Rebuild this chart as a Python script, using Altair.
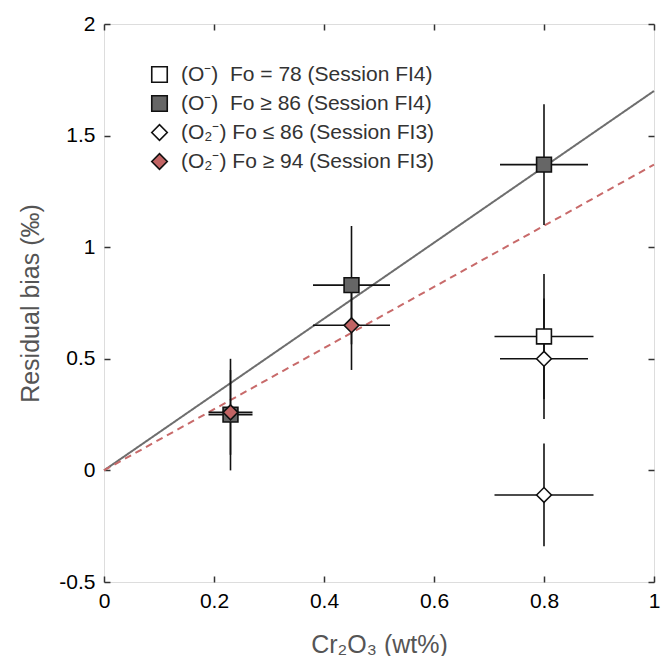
import altair as alt
import pandas as pd

FONT = "Liberation Sans"

# ---- data ----
series = [
    "(O\u207B)\u00a0\u00a0Fo = 78 (Session FI4)",
    "(O\u207B)\u00a0\u00a0Fo \u2265 86 (Session FI4)",
    "(O\u2082\u207B) Fo \u2264 86 (Session FI3)",
    "(O\u2082\u207B) Fo \u2265 94 (Session FI3)",
]
shapes = ["square", "square", "diamond", "diamond"]
fills = ["#ffffff", "#666666", "#ffffff", "#c26464"]
strokes = ["#111111", "#111111", "#111111", "#111111"]

s1_x = [0.80]
s1_y = [0.60]
s1_xerr = [0.09]
s1_yerr = [0.28]

s2_x = [0.23, 0.45, 0.80]
s2_y = [0.25, 0.83, 1.37]
s2_xerr = [0.04, 0.07, 0.08]
s2_yerr = [0.25, 0.265, 0.27]

s3_x = [0.80, 0.80]
s3_y = [0.50, -0.11]
s3_xerr = [0.08, 0.09]
s3_yerr = [0.27, 0.23]

s4_x = [0.23, 0.45]
s4_y = [0.26, 0.65]
s4_xerr = [0.04, 0.07]
s4_yerr = [0.19, 0.20]

fit_names = ["FI4 fit", "FI3 fit"]
fit_slopes = [1.70, 1.37]
fit_colors = ["#6e6e6e", "#c86a6a"]
fit_dash = [[1, 0], [7, 5]]

x_ticks = [0, 0.2, 0.4, 0.6, 0.8, 1]
y_ticks = [-0.5, 0, 0.5, 1, 1.5, 2]
x_domain = [0, 1]
y_domain = [-0.5, 2]

# ---- tables ----
rows = []
for name, xs_, ys_, xe, ye in [
    (series[0], s1_x, s1_y, s1_xerr, s1_yerr),
    (series[1], s2_x, s2_y, s2_xerr, s2_yerr),
    (series[2], s3_x, s3_y, s3_xerr, s3_yerr),
    (series[3], s4_x, s4_y, s4_xerr, s4_yerr),
]:
    for a, b, c, d in zip(xs_, ys_, xe, ye):
        rows.append({"series": name, "x": a, "y": b, "xerr": c, "yerr": d})
pts = pd.DataFrame(rows)

fit_rows = []
for n, s in zip(fit_names, fit_slopes):
    for xv in x_domain:
        fit_rows.append({"fit": n, "x": xv, "y": s * xv})
fits = pd.DataFrame(fit_rows)

xs = alt.Scale(domain=x_domain, nice=False, zero=False)
ys = alt.Scale(domain=y_domain, nice=False, zero=False)

label_expr = "datum.value < 0 ? '-' + format(-datum.value, '~g') : format(datum.value, '~g')"

W, H = 550, 558

x_label_axis = alt.Axis(
    orient="bottom", values=x_ticks, ticks=False, tickSize=0, domain=False, grid=False,
    labelFlush=False, labelOverlap=False, labelExpr=label_expr,
    labelFont=FONT, labelFontSize=21, labelColor="#000000", labelPadding=8,
    title="Cr\u2082O\u2083 (wt%)", titleFont=FONT, titleFontSize=25, titleFontWeight="normal",
    titleColor="#555555", titlePadding=21,
)
y_label_axis = alt.Axis(
    orient="left", values=y_ticks, ticks=False, tickSize=0, domain=False, grid=False,
    labelFlush=False, labelOverlap=False, labelExpr=label_expr,
    labelFont=FONT, labelFontSize=21, labelColor="#000000", labelPadding=9,
    title="Residual bias (\u2030)", titleFont=FONT, titleFontSize=25, titleFontWeight="normal",
    titleColor="#555555", titleX=-74, titleY=H / 2, titleBaseline="middle", titleAlign="center",
    titleAngle=270,
)


def tick_axis(orient, values):
    return alt.Axis(
        orient=orient, values=values, labels=False, domain=False, grid=False,
        ticks=True, tickSize=6, offset=-6, tickColor="#333333", tickWidth=1.5, title=None,
    )


lines = alt.Chart(fits).mark_line(strokeWidth=2).encode(
    x=alt.X("x:Q", scale=xs, axis=x_label_axis),
    y=alt.Y("y:Q", scale=ys, axis=y_label_axis),
    color=alt.Color("fit:N", scale=alt.Scale(domain=fit_names, range=fit_colors), legend=None),
    strokeDash=alt.StrokeDash("fit:N", scale=alt.Scale(domain=fit_names, range=fit_dash), legend=None),
)

xerr = alt.Chart(pts).transform_calculate(
    xlo="datum.x - datum.xerr", xhi="datum.x + datum.xerr"
).mark_rule(color="#111111", strokeWidth=1.6).encode(
    x=alt.X("xlo:Q", scale=xs, axis=tick_axis("bottom", x_ticks)),
    x2="xhi:Q",
    y=alt.Y("y:Q", scale=ys, axis=tick_axis("left", y_ticks)),
)

yerr = alt.Chart(pts).transform_calculate(
    ylo="datum.y - datum.yerr", yhi="datum.y + datum.yerr"
).mark_rule(color="#111111", strokeWidth=1.6).encode(
    x=alt.X("x:Q", scale=xs, axis=tick_axis("top", x_ticks)),
    y=alt.Y("ylo:Q", scale=ys, axis=tick_axis("right", y_ticks)),
    y2="yhi:Q",
)

legend = alt.Legend(
    orient="none", legendX=45, legendY=40, title=None, padding=0,
    labelFont=FONT, labelFontSize=21, labelColor="#333333", labelLimit=600,
    labelOffset=11, rowPadding=6, symbolSize=240,
    symbolStrokeColor="#111111", symbolStrokeWidth=1.6, symbolOpacity=1,
)

points = alt.Chart(pts).mark_point(
    filled=True, size=220, strokeWidth=1.6, opacity=1
).encode(
    x=alt.X("x:Q", scale=xs, axis=None),
    y=alt.Y("y:Q", scale=ys, axis=None),
    shape=alt.Shape("series:N", scale=alt.Scale(domain=series, range=shapes), legend=legend),
    fill=alt.Fill("series:N", scale=alt.Scale(domain=series, range=fills), legend=legend),
    stroke=alt.Stroke("series:N", scale=alt.Scale(domain=series, range=strokes), legend=legend),
)

chart = alt.layer(lines, xerr, yerr, points).resolve_axis(
    x="independent", y="independent"
).properties(
    width=W, height=H,
    autosize=alt.AutoSizeParams(type="none"),
    padding={"left": 96, "top": 16, "right": 7, "bottom": 74},
).configure_view(
    stroke="#333333", strokeWidth=1.5
).configure(background="white")

chart.save("out.html", embed_options={"renderer": "svg", "actions": False})
